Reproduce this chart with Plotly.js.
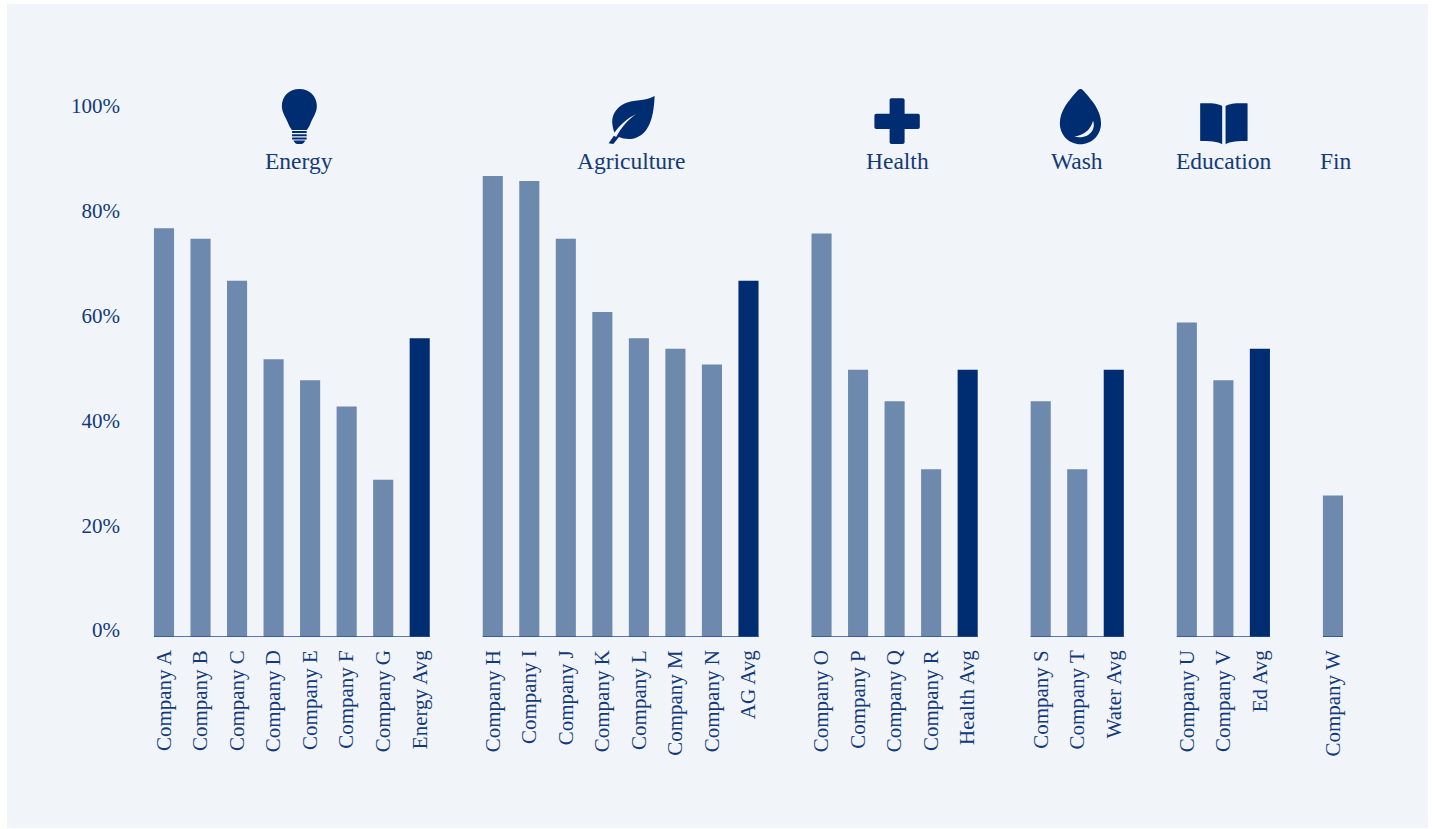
<!DOCTYPE html>
<html>
<head>
<meta charset="utf-8">
<script src="https://cdn.plot.ly/plotly-3.0.1.min.js"></script>
<style>
html,body{margin:0;padding:0;background:#fff;width:1432px;height:829px;overflow:hidden}
#chart{position:absolute;left:7px;top:4px;width:1421px;height:824px}
</style>
</head>
<body>
<div id="chart"></div>
<script>
// ---- Data ----
const sectorNames = ["Energy", "Agriculture", "Health", "Wash", "Education", "Fin"];

const energyLabels = ["Company A","Company B","Company C","Company D","Company E","Company F","Company G","Energy Avg"];
const energyValues = [78,76,68,53,49,44,30,57];
const agricultureLabels = ["Company H","Company I","Company J","Company K","Company L","Company M","Company N","AG Avg"];
const agricultureValues = [88,87,76,62,57,55,52,68];
const healthLabels = ["Company O","Company P","Company Q","Company R","Health Avg"];
const healthValues = [77,51,45,32,51];
const washLabels = ["Company S","Company T","Water Avg"];
const washValues = [45,32,51];
const educationLabels = ["Company U","Company V","Ed Avg"];
const educationValues = [60,49,55];
const finLabels = ["Company W"];
const finValues = [27];

const yTickValues = [0,20,40,60,80,100];
const yTickLabels = ["0%","20%","40%","60%","80%","100%"];

// ---- Styling ----
const PANEL = "#f1f4f8", DARK = "#002d72", LIGHT = "#6e89ae", TEXT = "#123a7a", AXIS = "#28508e";
const FONT = "'Liberation Serif', serif";
const STEP_PX = 36.53, BAR_WIDTH = 0.55;

// ---- Build the bars: one blank slot between sectors ----
const labelGroups = [energyLabels, agricultureLabels, healthLabels, washLabels, educationLabels, finLabels];
const valueGroups = [energyValues, agricultureValues, healthValues, washValues, educationValues, finValues];
const xs = [], ys = [], names = [], colors = [], spans = [];
let slot = 0;
labelGroups.forEach((labels, g) => {
  const first = slot;
  labels.forEach((name, i) => {
    xs.push(slot); ys.push(valueGroups[g][i]); names.push(name);
    colors.push(/Avg$/.test(name) ? DARK : LIGHT);
    slot++;
  });
  spans.push([first, slot - 1]);
  slot++;
});

// ---- Sector headers and icons ----
const headerNudgePx = [7.5, 10, 2.5, 0.2, 0.5, 3];
const headerX = spans.map((s, i) => (s[0] + s[1]) / 2 + headerNudgePx[i] / STEP_PX);

// Icon outlines: local pixels, y pointing down, drawn around the anchor
const flip = d => { let n = 0; return d.replace(/-?\d+(\.\d+)?/g, m => (n++ % 2) ? String(-parseFloat(m)) : m); };
const icons = [
  { g: 0, paths: [
    ["M-17.5 -7 C-17.5 -17 -10 -24 0 -24 C10 -24 17.5 -17 17.5 -7 C17.5 0 13 5 10.5 12 C9 15 8 16 7.5 17 L-7.5 17 C-8 16 -9 15 -10.5 12 C-13 5 -17.5 0 -17.5 -7 Z", DARK],
    ["M-7.3 18 L7.3 18 L7.3 20 L-7.3 20 Z M-7.3 21.2 L7.3 21.2 L7.3 23.2 L-7.3 23.2 Z M-7.3 24.5 L7.3 24.5 L7.3 26.5 L-7.3 26.5 Z M-6 27.6 L6 27.6 C5 29.5 3.5 31 2 31 L-2 31 C-3.5 31 -5 29.5 -6 27.6 Z", DARK]
  ]},
  { g: 1, paths: [
    ["M24 -17 C14 -11 3 -14 -6 -9.5 C-15 -5 -20 3 -18 13 C-17.5 16 -16.5 19 -15.5 21 L-22 30.3 L-17.3 31 L-11.7 24 C-7 26 0 27 6 24.5 C17 20 23 8 24 -17 Z", DARK],
    ["M5.7 1 C-3 5 -11 12 -18 22 L-14.5 24 C-9 14 -3 7 5.7 1 Z", PANEL]
  ]},
  { g: 2, paths: [
    ["M-5.5 -14.7 L5.5 -14.7 C6.8 -14.7 7.5 -14 7.5 -12.7 L7.5 0.7 L20.7 0.7 C22 0.7 22.7 1.4 22.7 2.7 L22.7 14 C22.7 15.3 22 16 20.7 16 L7.5 16 L7.5 29 C7.5 30.3 6.8 31 5.5 31 L-5.5 31 C-6.8 31 -7.5 30.3 -7.5 29 L-7.5 16 L-20.7 16 C-22 16 -22.7 15.3 -22.7 14 L-22.7 2.7 C-22.7 1.4 -22 0.7 -20.7 0.7 L-7.5 0.7 L-7.5 -12.7 C-7.5 -14 -6.8 -14.7 -5.5 -14.7 Z", DARK]
  ]},
  { g: 3, paths: [
    ["M3 -24 C5 -24 6 -22 8 -20 C15 -12 23.6 -2 23.6 10.3 C23.6 22 14.5 31.3 3 31.3 C-8.5 31.3 -17.6 22 -17.6 10.3 C-17.6 -2 -9 -12 -2 -20 C0 -22 1 -24 3 -24 Z", DARK],
    ["M15.6 7.7 C19 17 11 26.5 -3.2 23.8 C5 22 13 18 15.6 7.7 Z", PANEL]
  ]},
  { g: 4, paths: [
    ["M-23.7 -9 C-23.7 -9.7 -23.2 -9.7 -23 -9.7 C-15 -10 -6 -10 -1.7 -7 L-1.7 31.3 C-6 28.5 -15 28 -23 28 C-23.5 28 -23.7 27.8 -23.7 27 Z", DARK],
    ["M23.7 -9 C23.7 -9.7 23.2 -9.7 23 -9.7 C15 -10 6 -10 1.7 -7 L1.7 31.3 C6 28.5 15 28 23 28 C23.5 28 23.7 27.8 23.7 27 Z", DARK]
  ]}
];

const shapes = [];
spans.forEach(s => shapes.push({
  type: "line", xref: "x", yref: "y", layer: "above",
  x0: s[0] - BAR_WIDTH / 2, x1: s[1] + BAR_WIDTH / 2, y0: 0, y1: 0,
  line: { color: AXIS, width: 1.6 }
}));
icons.forEach(ic => ic.paths.forEach(p => shapes.push({
  type: "path", xref: "x", yref: "y",
  xsizemode: "pixel", ysizemode: "pixel",
  xanchor: headerX[ic.g], yanchor: 100,
  path: flip(p[0]), fillcolor: p[1], line: { width: 0 }, layer: "above"
})));

const annotations = sectorNames.map((name, i) => ({
  x: headerX[i], y: 90.8, xref: "x", yref: "y", xanchor: "center", yanchor: "middle",
  text: name, showarrow: false, font: { family: FONT, size: 23.5, color: TEXT }
}));

// ---- Plot: bar baseline at 637px, 5.24px per percentage point ----
const PLOT_LEFT = 126, PLOT_RIGHT = 1400, BASE_Y = 637, TOP_Y = 60, X0 = 164, PER_PCT = 5.24;
const data = [{
  type: "bar", x: xs, y: ys, width: BAR_WIDTH, text: names,
  textposition: "none", hoverinfo: "text+y",
  marker: { color: colors, line: { width: 0 } }
}];
const layout = {
  width: 1421, height: 824,
  margin: { l: PLOT_LEFT - 7, r: 1428 - PLOT_RIGHT, t: TOP_Y - 4, b: 828 - BASE_Y, pad: 0 },
  paper_bgcolor: PANEL, plot_bgcolor: PANEL,
  showlegend: false, bargap: 0.45,
  font: { family: FONT, color: TEXT, size: 21 },
  xaxis: {
    range: [(PLOT_LEFT - X0) / STEP_PX, (PLOT_RIGHT - X0) / STEP_PX],
    tickmode: "array", tickvals: xs, ticktext: names, tickangle: -90,
    ticks: "", ticklen: 0, showgrid: false, zeroline: false, showline: false,
    automargin: false, ticklabelstandoff: 8,
    tickfont: { family: FONT, size: 21, color: TEXT }
  },
  yaxis: {
    range: [0, (BASE_Y - TOP_Y) / PER_PCT],
    tickmode: "array", tickvals: yTickValues, ticktext: yTickLabels,
    ticks: "", showgrid: false, zeroline: false, showline: false,
    automargin: false, ticklabelshift: -7, ticklabelstandoff: 5,
    tickfont: { family: FONT, size: 21, color: TEXT }
  },
  shapes, annotations
};
Plotly.newPlot("chart", data, layout, { displayModeBar: false, staticPlot: true });
</script>
</body>
</html>
